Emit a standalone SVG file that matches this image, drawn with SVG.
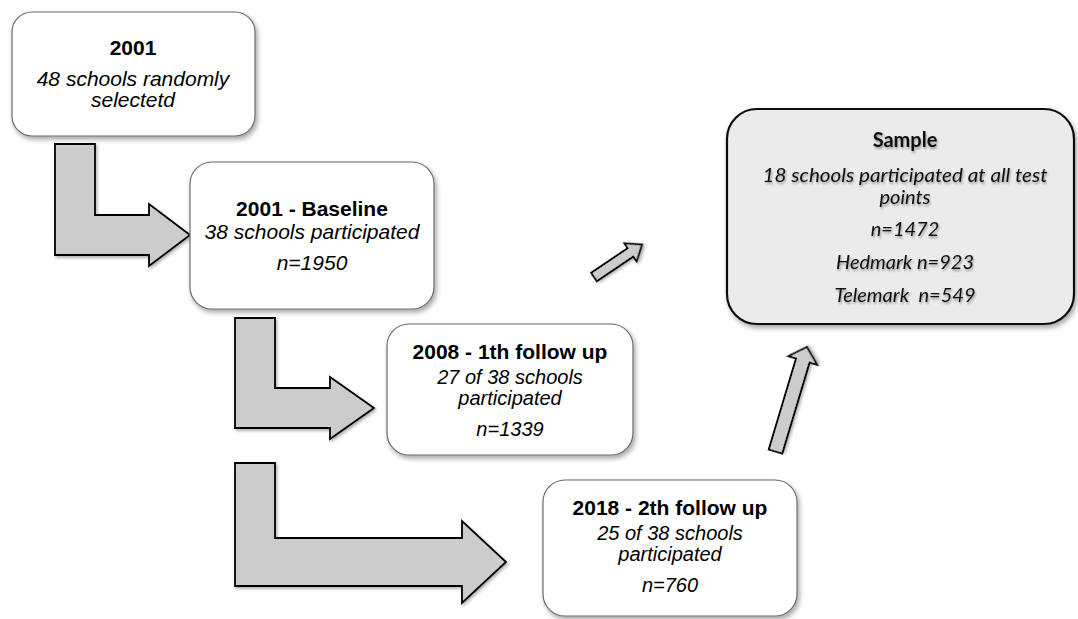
<svg xmlns="http://www.w3.org/2000/svg" width="1078" height="619" viewBox="0 0 1078 619">
<style>
.box{fill:#ffffff;stroke:#6a6a6a;stroke-width:1.2;filter:url(#sh)}
.sbox{fill:#ebebeb;stroke:#111;stroke-width:2.2;filter:url(#sh)}
.arr{fill:#cccccc;stroke:#000;stroke-width:1.8;stroke-linejoin:miter;filter:url(#sh2)}
.t{font-family:"Liberation Sans",Arial,sans-serif;font-size:21px;text-anchor:middle;fill:#000}
.m{font-size:20px}
.b{font-weight:bold}
.i{font-style:italic}
.s{font-family:Lato,"Open Sans",sans-serif;font-size:20px;text-anchor:middle;fill:#111;filter:url(#tsh)}
</style>
<defs>
<filter id="sh" x="-10%" y="-10%" width="125%" height="130%">
<feDropShadow dx="2" dy="3" stdDeviation="2.5" flood-color="#000" flood-opacity="0.35"/>
</filter>
<filter id="sh2" x="-10%" y="-10%" width="130%" height="130%">
<feDropShadow dx="1.5" dy="2" stdDeviation="1.5" flood-color="#000" flood-opacity="0.3"/>
</filter>
<filter id="tsh" x="-10%" y="-30%" width="120%" height="170%">
<feDropShadow dx="1" dy="2" stdDeviation="1.2" flood-color="#000" flood-opacity="0.35"/>
</filter>
</defs>

<g id="connectors">
<path class="arr" d="M55,144 H95 V215 H149 V204 L190,235 L149,266 V255 H55 Z"/>
<path class="arr" d="M235,318 H275 V388 H330 V377 L374,408 L330,439 V428 H235 Z"/>
<path class="arr" d="M235,463 H275 V538 H462 V521 L506,562 L462,603 V586 H235 Z"/>
<polygon class="arr" transform="translate(594,277) rotate(-34)" points="0,-5 44,-5 44,-11 58,0 44,11 44,5 0,5"/>
<polygon class="arr" transform="translate(775.5,451.5) rotate(-73.3)" points="0,-7 95,-7 95,-15 109,0 95,15 95,7 0,7"/>
</g>

<g id="node-2001">
<rect class="box" x="12" y="12" width="243" height="124" rx="20" ry="20"/>
<text class="t b" x="133" y="55">2001</text>
<text class="t i" x="133" y="86">48 schools randomly</text>
<text class="t i" x="133" y="107">selectetd</text>
</g>

<g id="node-baseline">
<rect class="box" x="190" y="162" width="244" height="147" rx="22" ry="22"/>
<text class="t b" x="312" y="216">2001 - Baseline</text>
<text class="t i" x="312" y="239">38 schools participated</text>
<text class="t i" x="312" y="270">n=1950</text>
</g>

<g id="node-2008">
<rect class="box" x="387" y="324" width="246" height="131" rx="22" ry="22"/>
<text class="t b" x="510" y="359">2008 - 1th follow up</text>
<text class="t m i" x="510" y="384">27 of 38 schools</text>
<text class="t m i" x="510" y="405">participated</text>
<text class="t m i" x="510" y="436">n=1339</text>
</g>

<g id="node-2018">
<rect class="box" x="543" y="480" width="254" height="136" rx="22" ry="22"/>
<text class="t b" x="670" y="515">2018 - 2th follow up</text>
<text class="t m i" x="670" y="540">25 of 38 schools</text>
<text class="t m i" x="670" y="561">participated</text>
<text class="t m i" x="670" y="592">n=760</text>
</g>

<g id="node-sample">
<rect class="sbox" x="727" y="109" width="347" height="215" rx="30" ry="30"/>
<text class="s" x="905" y="147" font-weight="bold">Sample</text>
<text class="s" x="905" y="182" font-style="italic" textLength="285" lengthAdjust="spacingAndGlyphs">18 schools participated at all test</text>
<text class="s" x="905" y="204" font-style="italic">points</text>
<text class="s" x="905" y="236" font-style="italic">n=1472</text>
<text class="s" x="905" y="269" font-style="italic">Hedmark n=923</text>
<text class="s" x="905" y="302" font-style="italic" xml:space="preserve">Telemark  n=549</text>
</g>
</svg>
